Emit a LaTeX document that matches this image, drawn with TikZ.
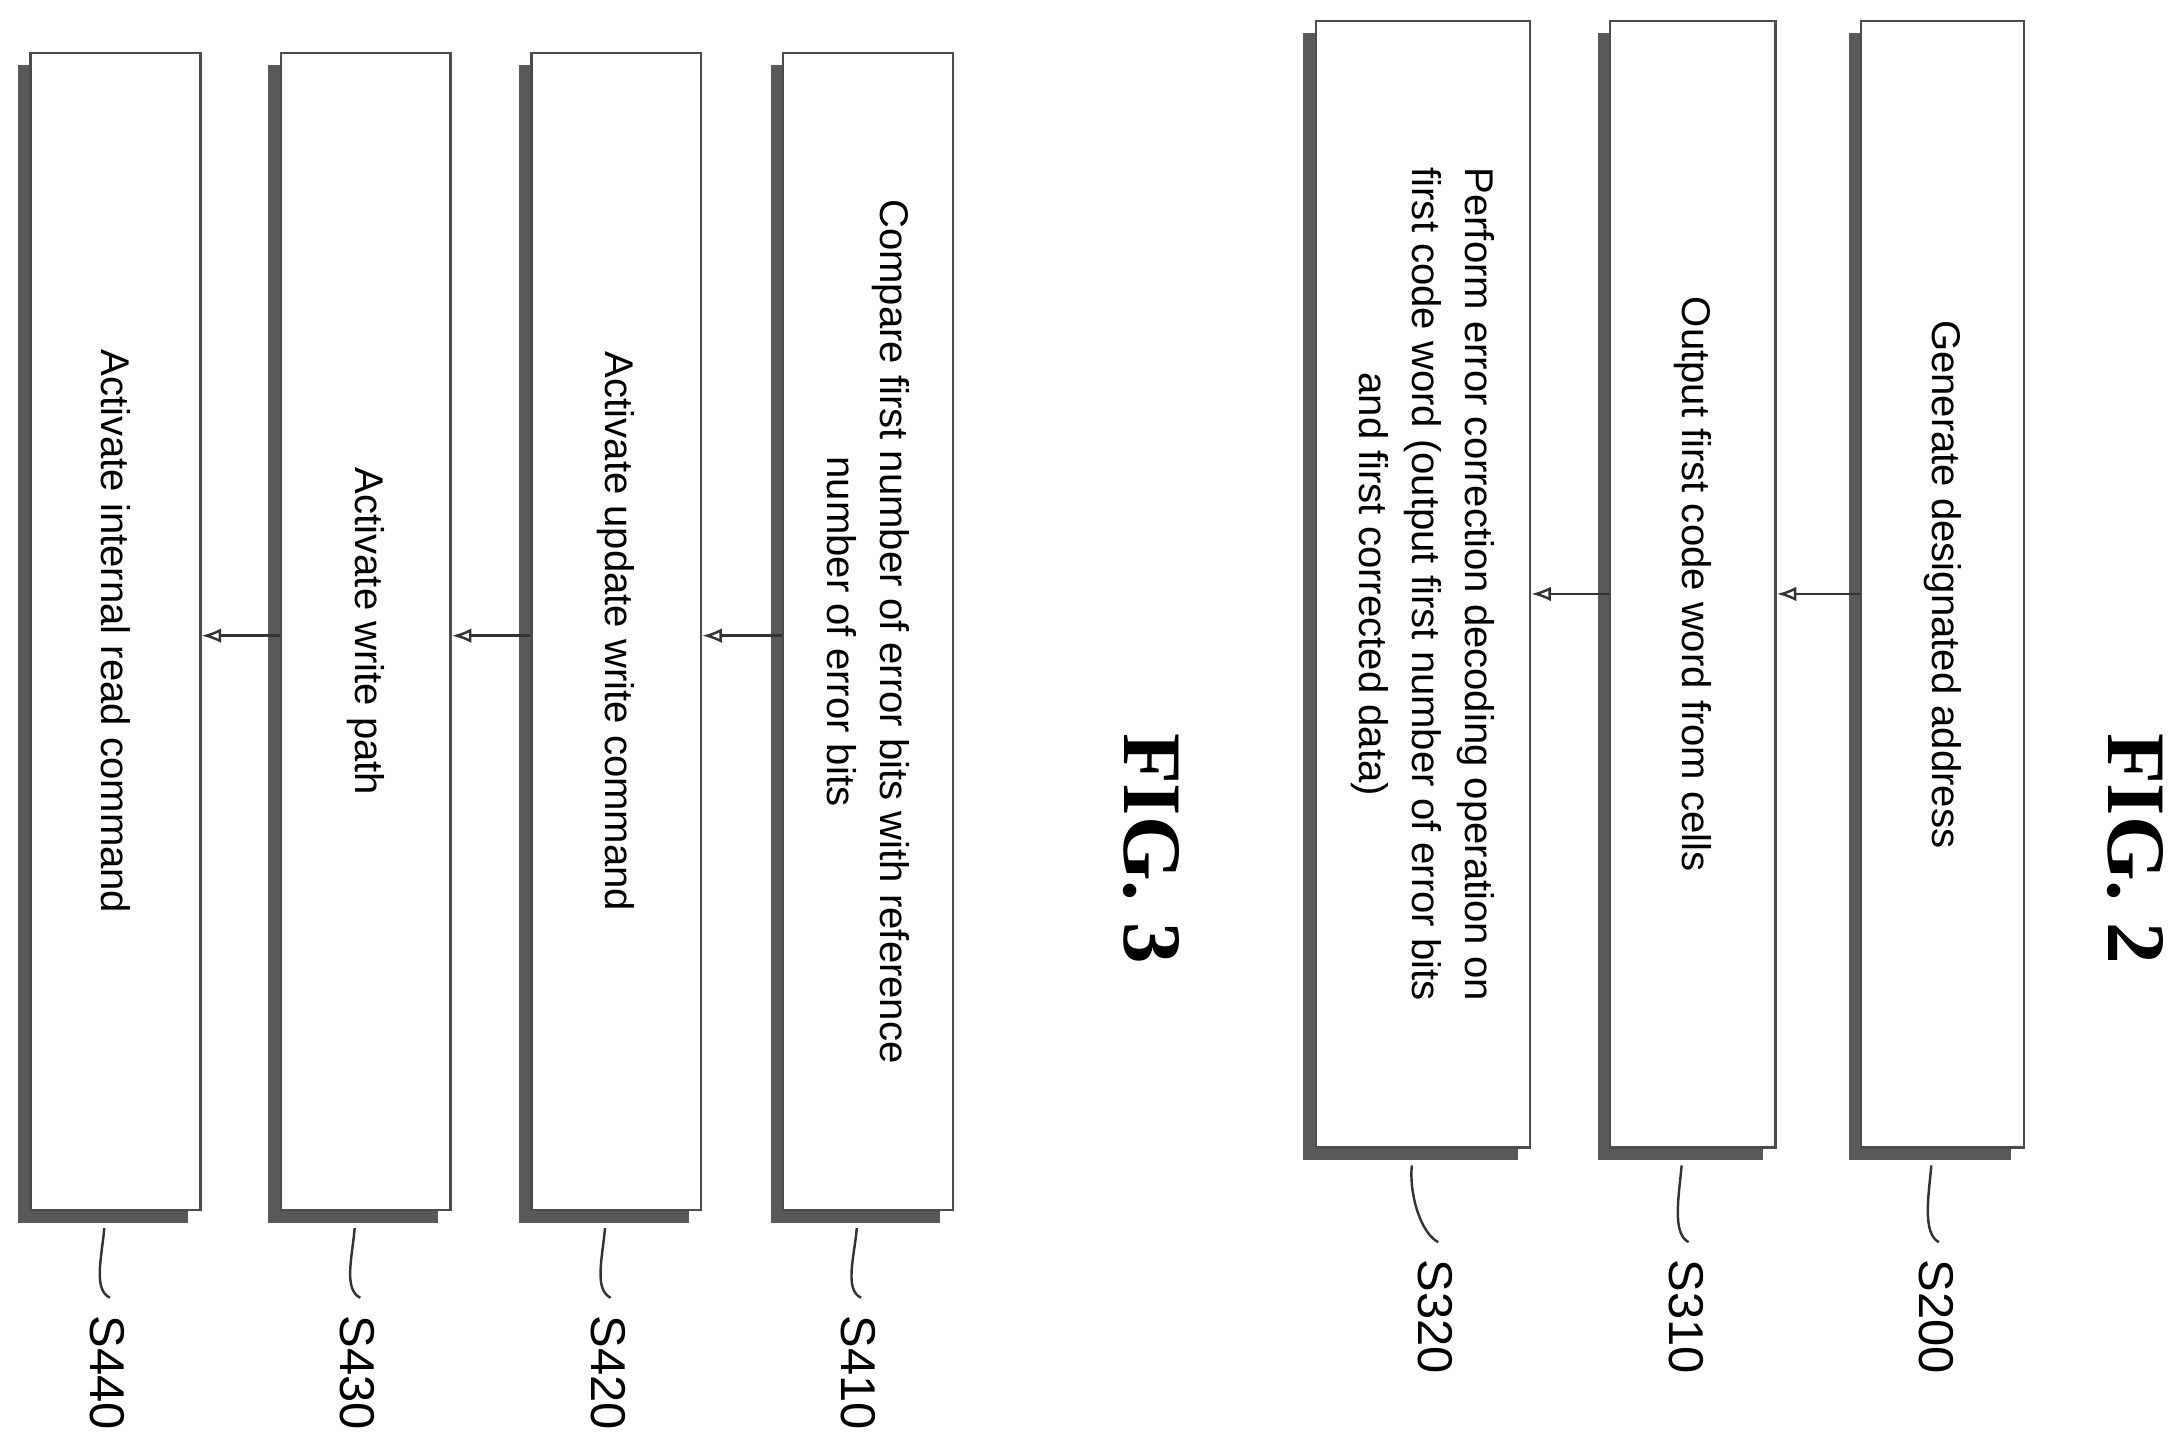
\documentclass[tikz,border=0pt]{standalone}
\usepackage{fontspec}
\setmainfont{Liberation Sans}
\newfontfamily\figfont{Liberation Serif}
\usetikzlibrary{calc,arrows.meta}
\begin{document}
\begin{tikzpicture}[x=0.1mm,y=-0.1mm,
  box/.style={draw=black!70,line width=0.5pt,fill=white,rectangle,inner sep=0pt,
    preaction={draw=none,fill=black!65,transform canvas={shift={(-0.9mm,-0.9mm)}}}},
  txt/.style={rotate=-90,align=center,font=\fontsize{8.2}{10.8}\selectfont,inner sep=0pt},
  lab/.style={rotate=-90,font=\fontsize{10}{12}\selectfont,anchor=west,inner sep=0pt},
  arr/.style={-{Latex[open,length=4pt,width=3pt]},line width=0.5pt,black!80},
  lead/.style={line width=0.5pt,black!80},
  fig/.style={rotate=-90,font=\figfont\bfseries\fontsize{17}{20}\selectfont,inner sep=0pt}]
\useasboundingbox (0,0) rectangle (1568,1043);
% FIG.2
\node[box,minimum width=11.7mm,minimum height=81mm] (b200) at (1396.5,420) {};
\node[box,minimum width=11.9mm,minimum height=81mm] (b310) at (1217,420) {};
\node[box,minimum width=15.4mm,minimum height=81mm] (b320) at (1023,420) {};
\node[txt] (t200) at (b200) {Generate designated address};
\node[txt] (t310) at (b310) {Output first code word from cells};
\node[txt] (t320) at (b320) {Perform error correction decoding operation on\\first code word (output first number of error bits\\and first corrected data)};
\coordinate (y2) at (0,427);
\draw[arr] (b200.west |- y2) -- (b310.east |- y2);
\draw[arr] (b310.west |- y2) -- (b320.east |- y2);
\node[fig] (f2) at (1535,610) {FIG. 2};
\node[lab] (s200) at (1392,905) {S200};
\node[lab] (s310) at (1212,905) {S310};
\node[lab] (s320) at (1032,905) {S320};
\foreach \b/\s in {b200/s200,b310/s310,b320/s320}{
  \draw[lead] ($(\b.south)+(-8,12)$) .. controls +(-2,22) and +(-12,-6) .. ($(\s.west)+(2,-12)$);
}
% FIG.3
\node[box,minimum width=12.2mm,minimum height=83.2mm] (b410) at (624,454) {};
\node[box,minimum width=12.2mm,minimum height=83.2mm] (b420) at (443,454) {};
\node[box,minimum width=12.2mm,minimum height=83.2mm] (b430) at (263,454) {};
\node[box,minimum width=12.2mm,minimum height=83.2mm] (b440) at (83,454) {};
\node[txt] (t410) at (b410) {Compare first number of error bits with reference\\number of error bits};
\node[txt] (t420) at (b420) {Activate update write command};
\node[txt] (t430) at (b430) {Activate write path};
\node[txt] (t440) at (b440) {Activate internal read command};
\coordinate (y3) at (0,457);
\draw[arr] (b410.west |- y3) -- (b420.east |- y3);
\draw[arr] (b420.west |- y3) -- (b430.east |- y3);
\draw[arr] (b430.west |- y3) -- (b440.east |- y3);
\node[fig] (f3) at (828,610) {FIG. 3};
\node[lab] (s410) at (617,945) {S410};
\node[lab] (s420) at (437,945) {S420};
\node[lab] (s430) at (257,945) {S430};
\node[lab] (s440) at (77,945) {S440};
\foreach \b/\s in {b410/s410,b420/s420,b430/s430,b440/s440}{
  \draw[lead] ($(\b.south)+(-8,12)$) .. controls +(-2,22) and +(-12,-6) .. ($(\s.west)+(2,-12)$);
}
\end{tikzpicture}
\end{document}
